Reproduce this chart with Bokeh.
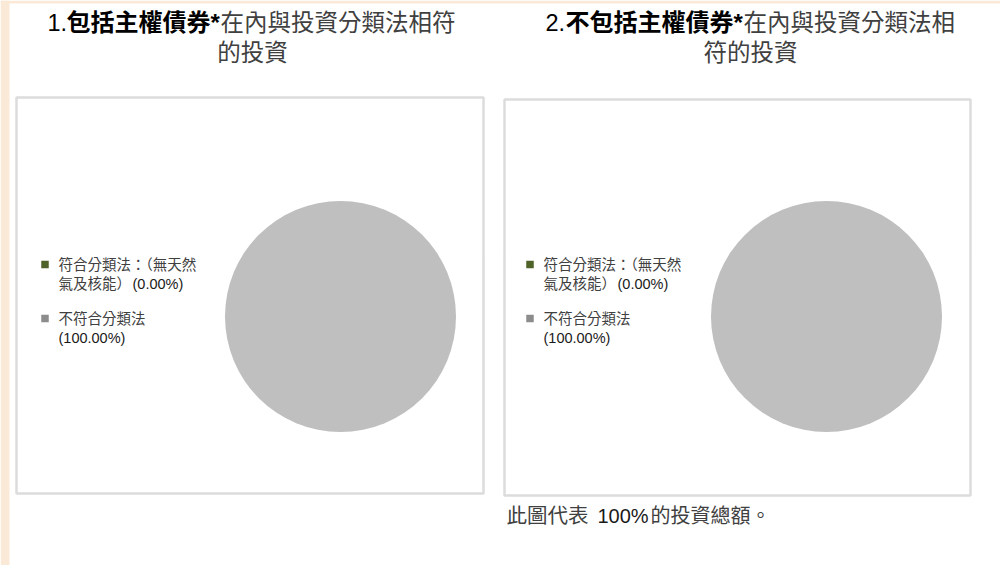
from math import pi
from bokeh.plotting import figure
from bokeh.models import Range1d, ColumnDataSource
from bokeh.core.properties import value
from bokeh.embed import file_html
from bokeh.resources import INLINE

# ---------------- data ----------------
categories = ["符合分類法：（無天然氣及核能）", "不符合分類法"]
pct_incl_sovereign = [0.00, 100.00]
pct_excl_sovereign = [0.00, 100.00]
legend_line1 = ["符合分類法：（無天然", "不符合分類法"]
legend_line2 = ["氣及核能）", ""]
title1_parts = ["1.", "包括主權債券*", "在內與投資分類法相符", "的投資"]
title2_parts = ["2.", "不包括主權債券*", "在內與投資分類法相", "符的投資"]
footer_parts = ["此圖代表", "100%", "的投資總額。"]

# ---------------- styles ----------------
slice_colors = ["#4f6228", "#bfbfbf"]
legend_marker_colors = ["#4f6228", "#8c8c8c"]
CJK = value("Liberation Sans, Noto Sans CJK TC")
GRAY = "#404040"
DARK = "#1a1a1a"

W, H = 1000, 565
p = figure(width=W, height=H, output_backend="svg", toolbar_location=None,
           x_range=Range1d(0, W), y_range=Range1d(H, 0),
           min_border=0, outline_line_color=None)
p.axis.visible = False
p.grid.visible = False
p.background_fill_color = "white"
p.border_fill_color = "white"

# beige page edges
p.quad(left=[0, 0], right=[9, W], top=[0, 0], bottom=[H, 3],
       fill_color="#fbe9d8", line_color=None)

# panel boxes
p.quad(left=[16, 504], right=[483, 970], top=[97, 99], bottom=[493, 495],
       fill_color=None, line_color="#dcdcdc", line_width=2.5)


def add_pie(cx, cy, r, values):
    total = sum(values)
    starts, ends, cols = [], [], []
    full_cols = []
    acc = 0.0
    for v, c in zip(values, slice_colors):
        if v >= total:
            full_cols.append(c)
        elif v > 0:
            starts.append(pi / 2 - 2 * pi * (acc + v) / total)
            ends.append(pi / 2 - 2 * pi * acc / total)
            cols.append(c)
        acc += v
    if cols:
        src = ColumnDataSource(dict(start=starts, end=ends, color=cols,
                                    x=[cx] * len(cols), y=[cy] * len(cols)))
        p.wedge(x="x", y="y", radius=r, start_angle="start", end_angle="end",
                fill_color="color", line_color=None, source=src)
    for c in full_cols:
        p.circle(x=[cx], y=[cy], radius=r, fill_color=c, line_color=None)


def add_legend(x0, values):
    ys = [264, 318]
    fs = "14.5px"
    for i, cat in enumerate(categories):
        y = ys[i]
        p.scatter([x0 + 2.5], [y], marker="square", size=7.5,
                  fill_color=legend_marker_colors[i], line_color=None)
        p.text([x0 + 16], [y], text=[legend_line1[i]], text_font=CJK,
               text_font_size=fs, text_color=GRAY, text_baseline="middle")
        pct = "(%.2f%%)" % values[i]
        if legend_line2[i]:
            p.text([x0 + 16], [y + 19], text=[legend_line2[i]], text_font=CJK,
                   text_font_size=fs, text_color=GRAY, text_baseline="middle")
            p.text([x0 + 90], [y + 19], text=[pct], text_font=CJK,
                   text_font_size=fs, text_color=DARK, text_baseline="middle")
        else:
            p.text([x0 + 16], [y + 19], text=[pct], text_font=CJK,
                   text_font_size=fs, text_color=DARK, text_baseline="middle")


def add_title(parts, xs, cx2):
    y1, y2 = 22, 52
    p.text([xs[0]], [y1], text=[parts[0]], text_font=CJK, text_font_size="23.5px",
           text_color="#000000", text_baseline="middle")
    p.text([xs[1]], [y1], text=[parts[1]], text_font=CJK, text_font_size="24px",
           text_font_style="bold", text_color="#000000", text_baseline="middle")
    p.text([xs[2]], [y1], text=[parts[2]], text_font=CJK, text_font_size="23.5px",
           text_color=GRAY, text_baseline="middle")
    p.text([cx2], [y2], text=[parts[3]], text_font=CJK, text_font_size="23.5px",
           text_color=GRAY, text_baseline="middle", text_align="center")


add_title(title1_parts, [47, 66, 220], 252)
add_title(title2_parts, [545, 565, 743], 750)

add_pie(340, 316, 115.5, pct_incl_sovereign)
add_pie(826, 316, 115.5, pct_excl_sovereign)

add_legend(42, pct_incl_sovereign)
add_legend(527, pct_excl_sovereign)

# footer
p.text([506], [515], text=[footer_parts[0]], text_font=CJK, text_font_size="20.5px",
       text_color=GRAY, text_baseline="middle")
p.text([597], [515], text=[footer_parts[1]], text_font=CJK, text_font_size="20px",
       text_color=DARK, text_baseline="middle")
p.text([650], [515], text=[footer_parts[2]], text_font=CJK, text_font_size="20px",
       text_color=GRAY, text_baseline="middle")

open("out.html", "w").write(file_html(p, INLINE))
